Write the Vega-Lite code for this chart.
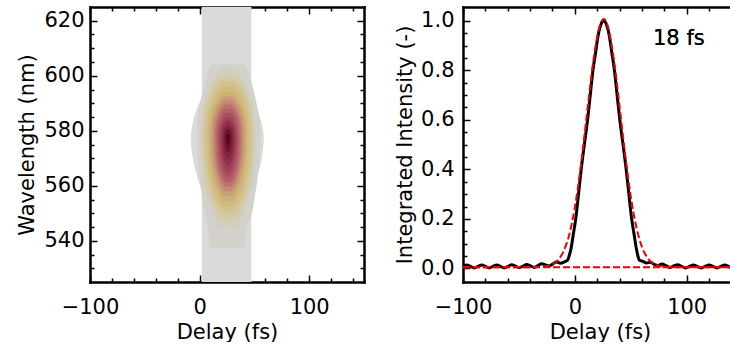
{
  "$schema": "https://vega.github.io/schema/vega-lite/v6.json",
  "background": "white",
  "padding": {"left": 16, "top": 4, "right": 0, "bottom": 0},
  "autosize": {"type": "pad"},
  "config": {
    "view": {"stroke": null},
    "axis": {"labelFont": "DejaVu Sans", "titleFont": "DejaVu Sans", "labelFontSize": 21, "titleFontSize": 21, "labelColor": "black", "titleColor": "black", "titleFontWeight": "normal", "tickColor": "black", "domainColor": "black", "grid": false, "zindex": 1, "domainCap": "square", "domainWidth": 2.5, "tickWidth": 1.5, "labelFlush": false},
    "text": {"font": "DejaVu Sans"}
  },
  "datasets": {
    "contour": [
      {"level": "L01", "wl": 625, "left": 2, "right": 47.3},
      {"level": "L01", "wl": 593, "left": 2, "right": 47.3},
      {"level": "L01", "wl": 589, "left": -1.5, "right": 51},
      {"level": "L01", "wl": 585, "left": -5, "right": 55},
      {"level": "L01", "wl": 580, "left": -7.5, "right": 58},
      {"level": "L01", "wl": 577, "left": -8, "right": 58.5},
      {"level": "L01", "wl": 572, "left": -7, "right": 57.5},
      {"level": "L01", "wl": 566, "left": -4, "right": 54.5},
      {"level": "L01", "wl": 561, "left": -0.5, "right": 50},
      {"level": "L01", "wl": 558, "left": 2, "right": 47.3},
      {"level": "L01", "wl": 525, "left": 2, "right": 47.3},
      {"level": "L02", "wl": 604.4, "left": 11.5, "right": 40.3},
      {"level": "L02", "wl": 603.5, "left": 9.0, "right": 43.0},
      {"level": "L02", "wl": 600, "left": 7.0, "right": 45.5},
      {"level": "L02", "wl": 595, "left": 3.5, "right": 49.0},
      {"level": "L02", "wl": 589, "left": 0.0, "right": 52.5},
      {"level": "L02", "wl": 583, "left": -2.0, "right": 55.0},
      {"level": "L02", "wl": 577.7, "left": -2.5, "right": 55.5},
      {"level": "L02", "wl": 571, "left": -2.0, "right": 55.0},
      {"level": "L02", "wl": 563, "left": 0.0, "right": 53.0},
      {"level": "L02", "wl": 555, "left": 2.5, "right": 50.0},
      {"level": "L02", "wl": 549, "left": 5.0, "right": 47.0},
      {"level": "L02", "wl": 545, "left": 7.5, "right": 43.5},
      {"level": "L02", "wl": 540, "left": 8.5, "right": 42.0},
      {"level": "L02", "wl": 537.5, "left": 8.5, "right": 42.0},
      {"level": "L03", "wl": 602.0, "left": 17.3, "right": 34.8},
      {"level": "L03", "wl": 598.4, "left": 12.3, "right": 39.8},
      {"level": "L03", "wl": 592.3, "left": 5.5, "right": 46.5},
      {"level": "L03", "wl": 585.0, "left": 2.0, "right": 50.0},
      {"level": "L03", "wl": 577.7, "left": 1.0, "right": 51.0},
      {"level": "L03", "wl": 568.0, "left": 2.0, "right": 50.0},
      {"level": "L03", "wl": 558.3, "left": 5.5, "right": 46.5},
      {"level": "L03", "wl": 550.2, "left": 12.3, "right": 39.8},
      {"level": "L03", "wl": 545.3, "left": 17.3, "right": 34.8},
      {"level": "L04", "wl": 599.5, "left": 18.0, "right": 34.0},
      {"level": "L04", "wl": 596.2, "left": 13.4, "right": 38.7},
      {"level": "L04", "wl": 590.8, "left": 7.1, "right": 44.9},
      {"level": "L04", "wl": 584.2, "left": 3.9, "right": 48.1},
      {"level": "L04", "wl": 577.7, "left": 3.0, "right": 49.0},
      {"level": "L04", "wl": 568.9, "left": 3.9, "right": 48.1},
      {"level": "L04", "wl": 560.0, "left": 7.1, "right": 44.9},
      {"level": "L04", "wl": 552.6, "left": 13.4, "right": 38.7},
      {"level": "L04", "wl": 548.2, "left": 18.0, "right": 34.0},
      {"level": "L05", "wl": 597.7, "left": 20.8, "right": 31.3},
      {"level": "L05", "wl": 594.7, "left": 14.5, "right": 37.6},
      {"level": "L05", "wl": 589.7, "left": 8.8, "right": 43.2},
      {"level": "L05", "wl": 583.7, "left": 5.8, "right": 46.2},
      {"level": "L05", "wl": 577.7, "left": 5.0, "right": 47.0},
      {"level": "L05", "wl": 569.6, "left": 5.8, "right": 46.2},
      {"level": "L05", "wl": 561.5, "left": 8.8, "right": 43.2},
      {"level": "L05", "wl": 554.7, "left": 14.5, "right": 37.6},
      {"level": "L05", "wl": 550.7, "left": 20.8, "right": 31.3},
      {"level": "L06", "wl": 595.9, "left": 21.2, "right": 30.8},
      {"level": "L06", "wl": 593.2, "left": 15.4, "right": 36.6},
      {"level": "L06", "wl": 588.6, "left": 10.3, "right": 41.7},
      {"level": "L06", "wl": 583.2, "left": 7.6, "right": 44.4},
      {"level": "L06", "wl": 577.7, "left": 6.8, "right": 45.2},
      {"level": "L06", "wl": 570.2, "left": 7.6, "right": 44.4},
      {"level": "L06", "wl": 562.7, "left": 10.3, "right": 41.7},
      {"level": "L06", "wl": 556.5, "left": 15.4, "right": 36.6},
      {"level": "L06", "wl": 552.7, "left": 21.2, "right": 30.8},
      {"level": "L07", "wl": 594.1, "left": 21.7, "right": 30.4},
      {"level": "L07", "wl": 591.6, "left": 16.4, "right": 35.6},
      {"level": "L07", "wl": 587.5, "left": 11.7, "right": 40.3},
      {"level": "L07", "wl": 582.6, "left": 9.3, "right": 42.7},
      {"level": "L07", "wl": 577.7, "left": 8.6, "right": 43.4},
      {"level": "L07", "wl": 570.7, "left": 9.3, "right": 42.7},
      {"level": "L07", "wl": 563.8, "left": 11.7, "right": 40.3},
      {"level": "L07", "wl": 558.0, "left": 16.4, "right": 35.6},
      {"level": "L07", "wl": 554.5, "left": 21.7, "right": 30.4},
      {"level": "L08", "wl": 592.5, "left": 22.1, "right": 29.9},
      {"level": "L08", "wl": 590.3, "left": 17.4, "right": 34.6},
      {"level": "L08", "wl": 586.6, "left": 13.2, "right": 38.8},
      {"level": "L08", "wl": 582.1, "left": 11.0, "right": 41.0},
      {"level": "L08", "wl": 577.7, "left": 10.4, "right": 41.6},
      {"level": "L08", "wl": 571.3, "left": 11.0, "right": 41.0},
      {"level": "L08", "wl": 564.9, "left": 13.2, "right": 38.8},
      {"level": "L08", "wl": 559.5, "left": 17.4, "right": 34.6},
      {"level": "L08", "wl": 556.3, "left": 22.1, "right": 29.9},
      {"level": "L09", "wl": 591.1, "left": 22.5, "right": 29.5},
      {"level": "L09", "wl": 589.1, "left": 18.4, "right": 33.7},
      {"level": "L09", "wl": 585.7, "left": 14.6, "right": 37.4},
      {"level": "L09", "wl": 581.7, "left": 12.7, "right": 39.3},
      {"level": "L09", "wl": 577.7, "left": 12.1, "right": 39.9},
      {"level": "L09", "wl": 571.8, "left": 12.7, "right": 39.3},
      {"level": "L09", "wl": 565.9, "left": 14.6, "right": 37.4},
      {"level": "L09", "wl": 561.0, "left": 18.4, "right": 33.7},
      {"level": "L09", "wl": 558.0, "left": 22.5, "right": 29.5},
      {"level": "L10", "wl": 589.6, "left": 23.0, "right": 29.1},
      {"level": "L10", "wl": 587.8, "left": 19.3, "right": 32.7},
      {"level": "L10", "wl": 584.8, "left": 16.0, "right": 36.0},
      {"level": "L10", "wl": 581.3, "left": 14.3, "right": 37.7},
      {"level": "L10", "wl": 577.7, "left": 13.8, "right": 38.2},
      {"level": "L10", "wl": 572.3, "left": 14.3, "right": 37.7},
      {"level": "L10", "wl": 566.9, "left": 16.0, "right": 36.0},
      {"level": "L10", "wl": 562.4, "left": 19.3, "right": 32.7},
      {"level": "L10", "wl": 559.7, "left": 23.0, "right": 29.1},
      {"level": "L11", "wl": 588.1, "left": 23.4, "right": 28.7},
      {"level": "L11", "wl": 586.5, "left": 20.2, "right": 31.8},
      {"level": "L11", "wl": 583.9, "left": 17.3, "right": 34.7},
      {"level": "L11", "wl": 580.8, "left": 15.8, "right": 36.2},
      {"level": "L11", "wl": 577.7, "left": 15.4, "right": 36.6},
      {"level": "L11", "wl": 572.8, "left": 15.8, "right": 36.2},
      {"level": "L11", "wl": 567.9, "left": 17.3, "right": 34.7},
      {"level": "L11", "wl": 563.8, "left": 20.2, "right": 31.8},
      {"level": "L11", "wl": 561.4, "left": 23.4, "right": 28.7},
      {"level": "L12", "wl": 586.6, "left": 23.8, "right": 28.3},
      {"level": "L12", "wl": 585.3, "left": 21.1, "right": 31.0},
      {"level": "L12", "wl": 583.0, "left": 18.6, "right": 33.4},
      {"level": "L12", "wl": 580.4, "left": 17.4, "right": 34.6},
      {"level": "L12", "wl": 577.7, "left": 17.0, "right": 35.0},
      {"level": "L12", "wl": 573.4, "left": 17.4, "right": 34.6},
      {"level": "L12", "wl": 569.0, "left": 18.6, "right": 33.4},
      {"level": "L12", "wl": 565.4, "left": 21.1, "right": 31.0},
      {"level": "L12", "wl": 563.2, "left": 23.8, "right": 28.3},
      {"level": "L13", "wl": 585.0, "left": 24.1, "right": 27.9},
      {"level": "L13", "wl": 583.9, "left": 21.9, "right": 30.1},
      {"level": "L13", "wl": 582.1, "left": 19.9, "right": 32.2},
      {"level": "L13", "wl": 579.9, "left": 18.8, "right": 33.2},
      {"level": "L13", "wl": 577.7, "left": 18.5, "right": 33.5},
      {"level": "L13", "wl": 574.0, "left": 18.8, "right": 33.2},
      {"level": "L13", "wl": 570.2, "left": 19.9, "right": 32.2},
      {"level": "L13", "wl": 567.1, "left": 21.9, "right": 30.1},
      {"level": "L13", "wl": 565.2, "left": 24.1, "right": 27.9},
      {"level": "L14", "wl": 583.6, "left": 24.5, "right": 27.5},
      {"level": "L14", "wl": 582.7, "left": 22.7, "right": 29.3},
      {"level": "L14", "wl": 581.2, "left": 21.1, "right": 30.9},
      {"level": "L14", "wl": 579.5, "left": 20.2, "right": 31.8},
      {"level": "L14", "wl": 577.7, "left": 20.0, "right": 32.0},
      {"level": "L14", "wl": 574.6, "left": 20.2, "right": 31.8},
      {"level": "L14", "wl": 571.5, "left": 21.1, "right": 30.9},
      {"level": "L14", "wl": 568.9, "left": 22.7, "right": 29.3},
      {"level": "L14", "wl": 567.4, "left": 24.5, "right": 27.5},
      {"level": "L15", "wl": 582.0, "left": 24.9, "right": 27.2},
      {"level": "L15", "wl": 581.4, "left": 23.5, "right": 28.5},
      {"level": "L15", "wl": 580.3, "left": 22.2, "right": 29.8},
      {"level": "L15", "wl": 579.0, "left": 21.6, "right": 30.4},
      {"level": "L15", "wl": 577.7, "left": 21.4, "right": 30.6},
      {"level": "L15", "wl": 575.3, "left": 21.6, "right": 30.4},
      {"level": "L15", "wl": 573.0, "left": 22.2, "right": 29.8},
      {"level": "L15", "wl": 571.0, "left": 23.5, "right": 28.5},
      {"level": "L15", "wl": 569.8, "left": 24.9, "right": 27.2},
      {"level": "L16", "wl": 580.6, "left": 25.2, "right": 26.8},
      {"level": "L16", "wl": 580.2, "left": 24.2, "right": 27.8},
      {"level": "L16", "wl": 579.4, "left": 23.4, "right": 28.6},
      {"level": "L16", "wl": 578.6, "left": 22.9, "right": 29.1},
      {"level": "L16", "wl": 577.7, "left": 22.8, "right": 29.2},
      {"level": "L16", "wl": 576.1, "left": 22.9, "right": 29.1},
      {"level": "L16", "wl": 574.5, "left": 23.4, "right": 28.6},
      {"level": "L16", "wl": 573.1, "left": 24.2, "right": 27.8},
      {"level": "L16", "wl": 572.3, "left": 25.2, "right": 26.8},
      {"level": "L17", "wl": 579.0, "left": 25.6, "right": 26.5},
      {"level": "L17", "wl": 578.8, "left": 25.0, "right": 27.0},
      {"level": "L17", "wl": 578.5, "left": 24.5, "right": 27.5},
      {"level": "L17", "wl": 578.1, "left": 24.3, "right": 27.7},
      {"level": "L17", "wl": 577.7, "left": 24.2, "right": 27.8},
      {"level": "L17", "wl": 576.8, "left": 24.3, "right": 27.7},
      {"level": "L17", "wl": 575.9, "left": 24.5, "right": 27.5},
      {"level": "L17", "wl": 575.2, "left": 25.0, "right": 27.0},
      {"level": "L17", "wl": 574.7, "left": 25.6, "right": 26.5}
    ],
    "measured": [
      {"delay": -100.0, "intensity": 0.008}, {"delay": -96.6, "intensity": 0.014}, {"delay": -93.3, "intensity": 0.008}, {"delay": -89.9, "intensity": 0.002},
      {"delay": -86.6, "intensity": 0.008}, {"delay": -83.2, "intensity": 0.014}, {"delay": -79.9, "intensity": 0.008}, {"delay": -76.5, "intensity": 0.002},
      {"delay": -73.2, "intensity": 0.008}, {"delay": -69.8, "intensity": 0.014}, {"delay": -66.5, "intensity": 0.008}, {"delay": -63.1, "intensity": 0.002},
      {"delay": -59.8, "intensity": 0.008}, {"delay": -56.4, "intensity": 0.015}, {"delay": -53.1, "intensity": 0.009}, {"delay": -49.7, "intensity": 0.003},
      {"delay": -46.4, "intensity": 0.009}, {"delay": -43.0, "intensity": 0.016}, {"delay": -39.7, "intensity": 0.010}, {"delay": -36.3, "intensity": 0.004},
      {"delay": -33.0, "intensity": 0.011}, {"delay": -29.6, "intensity": 0.019}, {"delay": -26.3, "intensity": 0.014}, {"delay": -22.9, "intensity": 0.010},
      {"delay": -19.6, "intensity": 0.018}, {"delay": -16.2, "intensity": 0.026}, {"delay": -12.9, "intensity": 0.021}, {"delay": -9.5, "intensity": 0.026},
      {"delay": -6.2, "intensity": 0.035}, {"delay": -4.8, "intensity": 0.055}, {"delay": -3.4, "intensity": 0.08}, {"delay": -1.3, "intensity": 0.14},
      {"delay": 0.8, "intensity": 0.2}, {"delay": 3.3, "intensity": 0.3}, {"delay": 5.7, "intensity": 0.4}, {"delay": 8.5, "intensity": 0.5},
      {"delay": 11.4, "intensity": 0.6}, {"delay": 13.8, "intensity": 0.7}, {"delay": 16.2, "intensity": 0.8}, {"delay": 18.5, "intensity": 0.87},
      {"delay": 20.8, "intensity": 0.94}, {"delay": 23.3, "intensity": 0.985}, {"delay": 25.8, "intensity": 1.0}, {"delay": 28.3, "intensity": 0.985},
      {"delay": 30.8, "intensity": 0.94}, {"delay": 33.1, "intensity": 0.87}, {"delay": 35.4, "intensity": 0.8}, {"delay": 37.8, "intensity": 0.7},
      {"delay": 40.2, "intensity": 0.6}, {"delay": 43.1, "intensity": 0.5}, {"delay": 45.9, "intensity": 0.4}, {"delay": 48.3, "intensity": 0.3},
      {"delay": 50.8, "intensity": 0.2}, {"delay": 52.9, "intensity": 0.14}, {"delay": 55.0, "intensity": 0.08}, {"delay": 56.4, "intensity": 0.05},
      {"delay": 57.8, "intensity": 0.033}, {"delay": 61.0, "intensity": 0.028}, {"delay": 64.0, "intensity": 0.022}, {"delay": 67.5, "intensity": 0.025},
      {"delay": 71.0, "intensity": 0.016}, {"delay": 74.5, "intensity": 0.012}, {"delay": 78.0, "intensity": 0.018}, {"delay": 81.5, "intensity": 0.011},
      {"delay": 85.0, "intensity": 0.004}, {"delay": 88.5, "intensity": 0.010}, {"delay": 92.0, "intensity": 0.015}, {"delay": 95.5, "intensity": 0.008},
      {"delay": 99.0, "intensity": 0.002}, {"delay": 102.5, "intensity": 0.008}, {"delay": 106.0, "intensity": 0.014}, {"delay": 109.5, "intensity": 0.008},
      {"delay": 113.0, "intensity": 0.002}, {"delay": 116.5, "intensity": 0.008}, {"delay": 120.0, "intensity": 0.014}, {"delay": 123.5, "intensity": 0.008},
      {"delay": 127.0, "intensity": 0.002}, {"delay": 130.5, "intensity": 0.008}, {"delay": 134.0, "intensity": 0.014}, {"delay": 137.5, "intensity": 0.008},
      {"delay": 141.0, "intensity": 0.002}, {"delay": 144.5, "intensity": 0.008}
    ],
    "fit": [
      {"delay": -100, "intensity": 0.005}, {"delay": -60, "intensity": 0.005}, {"delay": -40, "intensity": 0.005}, {"delay": -30, "intensity": 0.006},
      {"delay": -25, "intensity": 0.009}, {"delay": -20, "intensity": 0.016}, {"delay": -17.5, "intensity": 0.023}, {"delay": -15, "intensity": 0.034},
      {"delay": -12.5, "intensity": 0.049}, {"delay": -10, "intensity": 0.070}, {"delay": -7.5, "intensity": 0.099}, {"delay": -5, "intensity": 0.136},
      {"delay": -2.5, "intensity": 0.186}, {"delay": 0, "intensity": 0.246}, {"delay": 2.5, "intensity": 0.318}, {"delay": 5, "intensity": 0.401},
      {"delay": 7.5, "intensity": 0.494}, {"delay": 10, "intensity": 0.592}, {"delay": 12.5, "intensity": 0.690}, {"delay": 15, "intensity": 0.785},
      {"delay": 17.5, "intensity": 0.868}, {"delay": 20, "intensity": 0.936}, {"delay": 22.5, "intensity": 0.982}, {"delay": 25, "intensity": 1.006},
      {"delay": 25.8, "intensity": 1.008}, {"delay": 27.5, "intensity": 1.002}, {"delay": 30, "intensity": 0.968}, {"delay": 32.5, "intensity": 0.913},
      {"delay": 35, "intensity": 0.840}, {"delay": 37.5, "intensity": 0.752}, {"delay": 40, "intensity": 0.655}, {"delay": 42.5, "intensity": 0.556},
      {"delay": 45, "intensity": 0.460}, {"delay": 47.5, "intensity": 0.371}, {"delay": 50, "intensity": 0.291}, {"delay": 52.5, "intensity": 0.223},
      {"delay": 55, "intensity": 0.167}, {"delay": 57.5, "intensity": 0.122}, {"delay": 60, "intensity": 0.087}, {"delay": 62.5, "intensity": 0.061},
      {"delay": 65, "intensity": 0.043}, {"delay": 67.5, "intensity": 0.029}, {"delay": 70, "intensity": 0.020}, {"delay": 75, "intensity": 0.011},
      {"delay": 80, "intensity": 0.007}, {"delay": 90, "intensity": 0.005}, {"delay": 145, "intensity": 0.005}
    ],
    "base": [
      {"delay": -100, "intensity": 0.005}, {"delay": 145, "intensity": 0.005}
    ]
  },
  "spacing": 99,
  "bounds": "flush",
  "hconcat": [
    {
      "width": 274,
      "height": 275,
      "data": {"name": "contour"},
      "layer": [
        {
          "mark": {"type": "area", "orient": "horizontal", "interpolate": "monotone", "clip": true},
          "encoding": {
            "x": {"field": "left", "type": "quantitative", "stack": null, "scale": {"domain": [-100, 150], "nice": false, "zero": false},
                  "axis": {"orient": "bottom", "values": [-100, 0, 100], "format": "d", "tickSize": -7, "labelPadding": 21, "title": "Delay (fs)", "titlePadding": 4}},
            "x2": {"field": "right"},
            "y": {"field": "wl", "type": "quantitative", "scale": {"domain": [525, 625], "nice": false, "zero": false},
                  "axis": {"orient": "left", "values": [540, 560, 580, 600, 620], "format": "d", "tickSize": -7, "labelPadding": 13, "title": "Wavelength (nm)", "titlePadding": 6}},
            "color": {"field": "level", "type": "nominal", "legend": null,
                      "scale": {"domain": ["L01","L02","L03","L04","L05","L06","L07","L08","L09","L10","L11","L12","L13","L14","L15","L16","L17"],
                                "range": ["#dadada","#d2d1cb","#d2cdb8","#d3c8a0","#d2c28a","#d1bb7c","#cdb078","#c89e74","#c48a72","#bc7070","#b45f68","#aa4e60","#9e3f56","#90304a","#82223e","#6c1430","#56081c"]}}
          }
        },
        {
          "mark": {"type": "point", "opacity": 0},
          "encoding": {
            "x": {"field": "left", "type": "quantitative", "scale": {"domain": [-100, 150], "nice": false, "zero": false},
                  "axis": {"orient": "bottom", "values": [-80, -60, -40, -20, 20, 40, 60, 80, 120, 140], "tickSize": -4, "labels": false, "domain": false, "title": null}},
            "y": {"field": "wl", "type": "quantitative", "scale": {"domain": [525, 625], "nice": false, "zero": false},
                  "axis": {"orient": "left", "values": [530, 535, 545, 550, 555, 565, 570, 575, 585, 590, 595, 605, 610, 615], "tickSize": -4, "labels": false, "domain": false, "title": null}}
          }
        },
        {
          "mark": {"type": "point", "opacity": 0},
          "encoding": {
            "x": {"field": "left", "type": "quantitative", "scale": {"domain": [-100, 150], "nice": false, "zero": false},
                  "axis": {"orient": "top", "values": [-100, 0, 100], "tickSize": -7, "labels": false, "title": null}},
            "y": {"field": "wl", "type": "quantitative", "scale": {"domain": [525, 625], "nice": false, "zero": false},
                  "axis": {"orient": "right", "values": [540, 560, 580, 600, 620], "tickSize": -7, "labels": false, "title": null}}
          }
        },
        {
          "mark": {"type": "point", "opacity": 0},
          "encoding": {
            "x": {"field": "left", "type": "quantitative", "scale": {"domain": [-100, 150], "nice": false, "zero": false},
                  "axis": {"orient": "top", "values": [-80, -60, -40, -20, 20, 40, 60, 80, 120, 140], "tickSize": -4, "labels": false, "domain": false, "title": null}},
            "y": {"field": "wl", "type": "quantitative", "scale": {"domain": [525, 625], "nice": false, "zero": false},
                  "axis": {"orient": "right", "values": [530, 535, 545, 550, 555, 565, 570, 575, 585, 590, 595, 605, 610, 615], "tickSize": -4, "labels": false, "domain": false, "title": null}}
          }
        }
      ],
      "resolve": {"axis": {"x": "independent", "y": "independent"}}
    },
    {
      "width": 274,
      "height": 275,
      "layer": [
        {
          "data": {"name": "measured"},
          "mark": {"type": "line", "color": "black", "strokeWidth": 3, "interpolate": "monotone", "clip": true},
          "encoding": {
            "x": {"field": "delay", "type": "quantitative", "scale": {"domain": [-100, 145], "nice": false, "zero": false},
                  "axis": {"orient": "bottom", "values": [-100, 0, 100], "format": "d", "tickSize": -7, "labelPadding": 21, "title": "Delay (fs)", "titlePadding": 4}},
            "y": {"field": "intensity", "type": "quantitative", "scale": {"domain": [-0.055, 1.056], "nice": false, "zero": false},
                  "axis": {"orient": "left", "values": [0, 0.2, 0.4, 0.6, 0.8, 1.0], "format": ".1f", "tickSize": -7, "labelPadding": 16, "title": "Integrated Intensity (-)", "titlePadding": 5}}
          }
        },
        {
          "data": {"name": "fit"},
          "mark": {"type": "line", "color": "#ee0000", "strokeWidth": 2, "strokeDash": [7, 3], "interpolate": "monotone", "clip": true},
          "encoding": {
            "x": {"field": "delay", "type": "quantitative", "scale": {"domain": [-100, 145], "nice": false, "zero": false},
                  "axis": {"orient": "bottom", "values": [-80, -60, -40, -20, 20, 40, 60, 80, 120, 140], "tickSize": -4, "labels": false, "domain": false, "title": null}},
            "y": {"field": "intensity", "type": "quantitative", "scale": {"domain": [-0.055, 1.056], "nice": false, "zero": false},
                  "axis": {"orient": "left", "values": [0.05, 0.1, 0.15, 0.25, 0.3, 0.35, 0.45, 0.5, 0.55, 0.65, 0.7, 0.75, 0.85, 0.9, 0.95], "tickSize": -4, "labels": false, "domain": false, "title": null}}
          }
        },
        {
          "data": {"name": "base"},
          "mark": {"type": "line", "color": "#ee0000", "strokeWidth": 2, "strokeDash": [7, 3], "clip": true},
          "encoding": {
            "x": {"field": "delay", "type": "quantitative", "scale": {"domain": [-100, 145], "nice": false, "zero": false},
                  "axis": {"orient": "top", "values": [-100, 0, 100], "tickSize": -7, "labels": false, "title": null}},
            "y": {"field": "intensity", "type": "quantitative", "scale": {"domain": [-0.055, 1.056], "nice": false, "zero": false},
                  "axis": {"orient": "right", "values": [0, 0.2, 0.4, 0.6, 0.8, 1.0], "tickSize": -7, "labels": false, "title": null}}
          }
        },
        {
          "data": {"name": "base"},
          "mark": {"type": "point", "opacity": 0},
          "encoding": {
            "x": {"field": "delay", "type": "quantitative", "scale": {"domain": [-100, 145], "nice": false, "zero": false},
                  "axis": {"orient": "top", "values": [-80, -60, -40, -20, 20, 40, 60, 80, 120, 140], "tickSize": -4, "labels": false, "domain": false, "title": null}},
            "y": {"field": "intensity", "type": "quantitative", "scale": {"domain": [-0.055, 1.056], "nice": false, "zero": false},
                  "axis": {"orient": "right", "values": [0.05, 0.1, 0.15, 0.25, 0.3, 0.35, 0.45, 0.5, 0.55, 0.65, 0.7, 0.75, 0.85, 0.9, 0.95], "tickSize": -4, "labels": false, "domain": false, "title": null}}
          }
        },
        {
          "data": {"name": "base"},
          "mark": {"type": "text", "fontSize": 21, "fontWeight": "normal", "font": "DejaVu Sans", "align": "center", "baseline": "middle", "color": "black"},
          "encoding": {
            "x": {"datum": 93, "type": "quantitative", "axis": null},
            "y": {"datum": 0.927, "type": "quantitative", "axis": null},
            "text": {"value": "18 fs"}
          }
        }
      ],
      "resolve": {"axis": {"x": "independent", "y": "independent"}}
    }
  ]
}
